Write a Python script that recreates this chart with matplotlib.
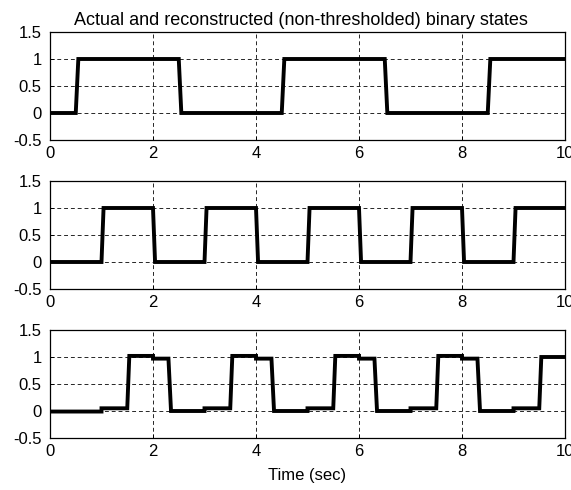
import matplotlib
matplotlib.use('Agg')
import matplotlib.pyplot as plt

plt.rcParams['font.family'] = ['Liberation Sans', 'DejaVu Sans']
plt.rcParams['font.size'] = 12

# actual state 1 (breakpoints)
t1 = [0, 0.5, 0.55, 2.5, 2.55, 4.5, 4.55, 6.5, 6.55, 8.5, 8.55, 10]
y1 = [0, 0, 1, 1, 0, 0, 1, 1, 0, 0, 1, 1]

# actual state 2
t2 = [0, 1.0, 1.04, 2.0, 2.04, 3.0, 3.04, 4.0, 4.04, 5.0, 5.04, 6.0, 6.04,
      7.0, 7.04, 8.0, 8.04, 9.0, 9.04, 10]
y2 = [0, 0, 1, 1, 0, 0, 1, 1, 0, 0, 1, 1, 0, 0, 1, 1, 0, 0, 1, 1]

# reconstructed (non-thresholded) state
t3 = [0, 1.0, 1.0, 1.5, 1.54, 2.0, 2.0, 2.3, 2.35, 3.0, 3.0, 3.5, 3.54,
      4.0, 4.0, 4.3, 4.35, 5.0, 5.0, 5.5, 5.54, 6.0, 6.0, 6.3, 6.35,
      7.0, 7.0, 7.5, 7.54, 8.0, 8.0, 8.3, 8.35, 9.0, 9.0, 9.5, 9.54, 10]
y3 = [-0.01, -0.01, 0.05, 0.05, 1.02, 1.02, 0.97, 0.97, 0, 0, 0.05, 0.05, 1.02,
      1.02, 0.97, 0.97, 0, 0, 0.05, 0.05, 1.02, 1.02, 0.97, 0.97, 0,
      0, 0.05, 0.05, 1.02, 1.02, 0.97, 0.97, 0, 0, 0.05, 0.05, 1.0, 1.0]

xticks = [0, 2, 4, 6, 8, 10]
yticks = [-0.5, 0, 0.5, 1, 1.5]
ylabels = ['-0.5', '0', '0.5', '1', '1.5']

fig = plt.figure(figsize=(5.71, 4.90), dpi=100)
left, width, height = 50 / 571, 515 / 571, 108 / 490
bottoms = [1 - 140 / 490, 1 - 289 / 490, 1 - 438 / 490]

axes = []
for b, (t, y) in zip(bottoms, [(t1, y1), (t2, y2), (t3, y3)]):
    ax = fig.add_axes([left, b, width, height])
    ax.plot(t, y, color='k', lw=2.8, solid_joinstyle='miter')
    ax.set_xlim(0, 10)
    ax.set_ylim(-0.5, 1.5)
    ax.set_xticks(xticks)
    ax.set_yticks(yticks)
    ax.set_yticklabels(ylabels)
    ax.grid(True, color='0.15', linestyle=(0, (4, 3)), linewidth=0.7)
    ax.tick_params(direction='in', length=3, width=0.7)
    ax.tick_params(axis='x', pad=4)
    ax.tick_params(axis='y', pad=6)
    for s in ax.spines.values():
        s.set_linewidth(0.9)
    axes.append(ax)

axes[0].set_title('Actual and reconstructed (non-thresholded) binary states',
                  fontsize=13, pad=5, x=0.488)
axes[2].set_xlabel('Time (sec)', fontsize=12, labelpad=7)

fig.savefig('out.png', dpi=100)
